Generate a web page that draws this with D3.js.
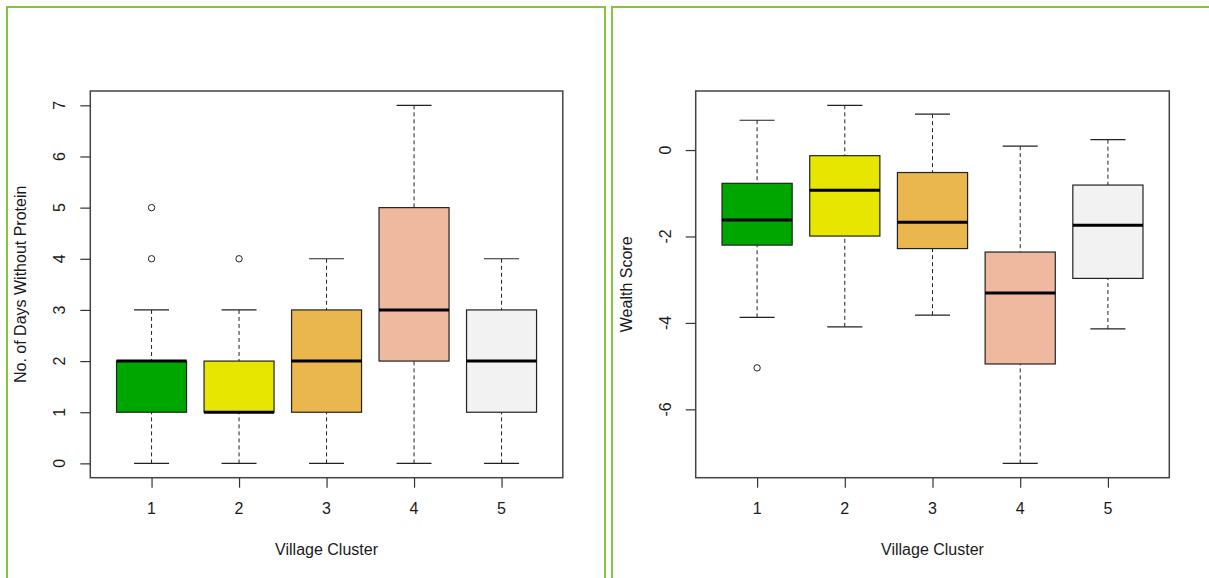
<!DOCTYPE html>
<html>
<head>
<meta charset="utf-8">
<script src="https://cdn.jsdelivr.net/npm/d3@7"></script>
<style>
  html, body { margin: 0; padding: 0; background: #fff; }
  svg { display: block; }
  text { font-family: "Liberation Sans", Arial, sans-serif; fill: #1a1a1a; }
</style>
</head>
<body>
<svg id="chart" width="1209" height="578"></svg>
<script>
// ---- data ----
const clusters = ["1", "2", "3", "4", "5"];
const boxColors = ["#00A600", "#E6E600", "#EAB64E", "#EEB99F", "#F2F2F2"];

// Panel 1: No. of Days Without Protein
const proteinLower = [0, 0, 0, 0, 0];
const proteinQ1 = [1, 1, 1, 2, 1];
const proteinMedian = [2, 1, 2, 3, 2];
const proteinQ3 = [2, 2, 3, 5, 3];
const proteinUpper = [3, 3, 4, 7, 4];
const proteinOutliers = [[4, 5], [4], [], [], []];
const proteinTicks = [0, 1, 2, 3, 4, 5, 6, 7];

// Panel 2: Wealth Score
const wealthLower = [-3.87, -4.09, -3.82, -7.25, -4.14];
const wealthQ1 = [-2.20, -1.99, -2.28, -4.95, -2.97];
const wealthMedian = [-1.62, -0.93, -1.67, -3.31, -1.74];
const wealthQ3 = [-0.77, -0.13, -0.52, -2.36, -0.81];
const wealthUpper = [0.69, 1.035, 0.83, 0.09, 0.24];
const wealthOutliers = [[-5.04], [], [], [], []];
const wealthTicks = [0, -2, -4, -6];

const xTitle = "Village Cluster";

const svg = d3.select("#chart");

// panel frames (green borders)
svg.append("rect").attr("x", 7).attr("y", 7).attr("width", 598).attr("height", 600)
  .attr("fill", "none").attr("stroke", "#86c440").attr("stroke-width", 2);
svg.append("rect").attr("x", 612).attr("y", 7).attr("width", 620).attr("height", 600)
  .attr("fill", "none").attr("stroke", "#86c440").attr("stroke-width", 2);

function drawPanel(opt) {
  const g = svg.append("g");
  const {left, right, top, bottom} = opt;
  const vals = [].concat(opt.lower, opt.upper, ...opt.outliers);
  const mn = d3.min(vals), mx = d3.max(vals);
  const ext = (mx - mn) * 0.04;
  const y = d3.scaleLinear().domain([mn - ext, mx + ext]).range([bottom, top]);
  const x = d3.scaleLinear().domain([0.3, clusters.length + 0.7]).range([left, right]);
  const unit = x(2) - x(1);
  const bw = unit * 0.8;
  const cw = bw * 0.5;

  clusters.forEach((c, i) => {
    const cx = x(i + 1);
    const bg = g.append("g");
    // whiskers
    [[opt.upper[i], opt.q3[i]], [opt.lower[i], opt.q1[i]]].forEach(([a, b]) => {
      bg.append("line").attr("x1", cx).attr("x2", cx).attr("y1", y(a)).attr("y2", y(b))
        .attr("stroke", "#222").attr("stroke-width", 1).attr("stroke-dasharray", "4,3");
      bg.append("line").attr("x1", cx - cw / 2).attr("x2", cx + cw / 2).attr("y1", y(a)).attr("y2", y(a))
        .attr("stroke", "#222").attr("stroke-width", 1.2);
    });
    // box
    bg.append("rect").attr("x", cx - bw / 2).attr("y", y(opt.q3[i]))
      .attr("width", bw).attr("height", y(opt.q1[i]) - y(opt.q3[i]))
      .attr("fill", boxColors[i]).attr("stroke", "#222").attr("stroke-width", 1.2);
    // median
    bg.append("line").attr("x1", cx - bw / 2).attr("x2", cx + bw / 2)
      .attr("y1", y(opt.median[i])).attr("y2", y(opt.median[i]))
      .attr("stroke", "#000").attr("stroke-width", 3);
    // outliers
    opt.outliers[i].forEach(v => {
      bg.append("circle").attr("cx", cx).attr("cy", y(v)).attr("r", 3.2)
        .attr("fill", "none").attr("stroke", "#222").attr("stroke-width", 1);
    });
  });

  // frame
  g.append("rect").attr("x", left).attr("y", top).attr("width", right - left).attr("height", bottom - top)
    .attr("fill", "none").attr("stroke", "#444").attr("stroke-width", 1.5);

  // y axis
  const yAxis = g.append("g").attr("transform", `translate(${left},0)`)
    .call(d3.axisLeft(y).tickValues(opt.yTicks).tickSize(10).tickFormat(d => d < 0 ? "-" + Math.abs(d) : d));
  yAxis.select(".domain").remove();
  yAxis.selectAll(".tick line").attr("stroke", "#333").attr("stroke-width", 1.2);
  yAxis.selectAll(".tick text").remove();
  opt.yTicks.forEach(t => {
    g.append("text").attr("transform", `translate(${left - 25},${y(t)}) rotate(-90)`)
      .attr("text-anchor", "middle").attr("font-size", 16)
      .text(t < 0 ? "-" + Math.abs(t) : t);
  });

  // x axis
  const xAxis = g.append("g").attr("transform", `translate(0,${bottom})`)
    .call(d3.axisBottom(x).tickValues(clusters.map((c, i) => i + 1)).tickSize(10).tickFormat(""));
  xAxis.select(".domain").remove();
  xAxis.selectAll(".tick line").attr("stroke", "#333").attr("stroke-width", 1.2);
  clusters.forEach((c, i) => {
    g.append("text").attr("x", x(i + 1)).attr("y", bottom + 36).attr("text-anchor", "middle")
      .attr("font-size", 16).text(c);
  });

  // titles
  g.append("text").attr("x", (left + right) / 2).attr("y", bottom + 77).attr("text-anchor", "middle")
    .attr("font-size", 16).text(xTitle);
  g.append("text").attr("transform", `translate(${left - 64},${(top + bottom) / 2}) rotate(-90)`)
    .attr("text-anchor", "middle").attr("font-size", 16).text(opt.yTitle);
}

drawPanel({
  left: 90.3, right: 562.8, top: 91, bottom: 477.7,
  lower: proteinLower, q1: proteinQ1, median: proteinMedian, q3: proteinQ3, upper: proteinUpper,
  outliers: proteinOutliers, yTicks: proteinTicks, yTitle: "No. of Days Without Protein"
});
drawPanel({
  left: 695.7, right: 1169.3, top: 91, bottom: 477.7,
  lower: wealthLower, q1: wealthQ1, median: wealthMedian, q3: wealthQ3, upper: wealthUpper,
  outliers: wealthOutliers, yTicks: wealthTicks, yTitle: "Wealth Score"
});
</script>
</body>
</html>
